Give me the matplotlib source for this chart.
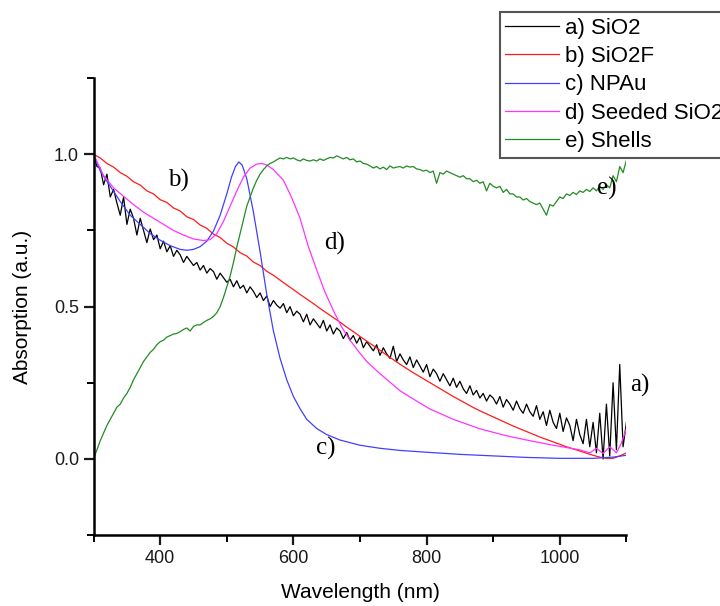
import numpy as np
import matplotlib.pyplot as plt
from matplotlib.ticker import MultipleLocator

plt.rcParams['font.family'] = ['Liberation Sans', 'DejaVu Sans']

# a) SiO2, sampled every 5 nm from 300 to 1100
sio2_wl = np.arange(300, 1101, 5)
sio2 = [
    1.00, 0.96, 0.955, 0.90, 0.935, 0.86, 0.885, 0.84, 0.80, 0.86,
    0.77, 0.82, 0.79, 0.735, 0.79, 0.75, 0.71, 0.755, 0.72, 0.735,
    0.69, 0.715, 0.68, 0.70, 0.665, 0.685, 0.67, 0.645, 0.665, 0.65,
    0.635, 0.645, 0.62, 0.635, 0.61, 0.625, 0.615, 0.59, 0.61, 0.595,
    0.58, 0.59, 0.565, 0.585, 0.56, 0.57, 0.545, 0.565, 0.55, 0.53,
    0.545, 0.52, 0.535, 0.50, 0.52, 0.505, 0.495, 0.51, 0.48, 0.50,
    0.47, 0.485, 0.475, 0.45, 0.475, 0.44, 0.46, 0.445, 0.43, 0.455,
    0.42, 0.44, 0.41, 0.43, 0.42, 0.395, 0.415, 0.39, 0.405, 0.38,
    0.40, 0.365, 0.385, 0.37, 0.355, 0.375, 0.34, 0.365, 0.345, 0.33,
    0.37, 0.32, 0.345, 0.325, 0.31, 0.335, 0.30, 0.325, 0.305, 0.285,
    0.31, 0.27, 0.295, 0.28, 0.255, 0.28, 0.26, 0.24, 0.265, 0.235,
    0.255, 0.23, 0.215, 0.24, 0.21, 0.225, 0.20, 0.215, 0.19, 0.21,
    0.20, 0.18, 0.205, 0.17, 0.195, 0.18, 0.16, 0.19, 0.165, 0.15,
    0.18, 0.155, 0.14, 0.175, 0.13, 0.155, 0.11, 0.16, 0.12, 0.10,
    0.15, 0.09, 0.135, 0.11, 0.06, 0.13, 0.08, 0.05, 0.13, 0.04,
    0.12, 0.02, 0.15, 0.00, 0.18, 0.01, 0.25, 0.03, 0.31, 0.04,
    0.12,
]

# b) SiO2F, every 10 nm
sio2f_wl = np.arange(300, 1101, 10)
sio2f = [
    1.000, 0.988, 0.970, 0.958, 0.940, 0.928, 0.910, 0.899, 0.880, 0.870,
    0.851, 0.842, 0.824, 0.814, 0.795, 0.786, 0.768, 0.757, 0.738, 0.727,
    0.708, 0.696, 0.677, 0.666, 0.646, 0.635, 0.616, 0.603, 0.587, 0.571,
    0.556, 0.540, 0.525, 0.510, 0.494, 0.479, 0.464, 0.449, 0.433, 0.418,
    0.402, 0.387, 0.372, 0.357, 0.341, 0.326, 0.311, 0.297, 0.283, 0.270,
    0.257, 0.244, 0.231, 0.218, 0.205, 0.193, 0.181, 0.169, 0.158, 0.148,
    0.138, 0.128, 0.118, 0.108, 0.099, 0.090, 0.081, 0.072, 0.064, 0.056,
    0.048, 0.040, 0.033, 0.026, 0.019, 0.012, 0.006, 0.002, 0.002, 0.010,
    0.020,
]

# c) NPAu
npau_wl = [300, 310, 325, 340, 355, 370, 385, 400, 415, 430, 440, 450, 460, 470,
           480, 490, 500, 507, 513, 518, 523, 530, 540, 550, 560, 570, 580, 590,
           600, 610, 620, 635, 650, 670, 700, 730, 760, 800, 850, 900, 950, 1000,
           1050, 1080, 1100]
npau = [1.0, 0.945, 0.895, 0.845, 0.80, 0.77, 0.74, 0.718, 0.70, 0.688, 0.685,
        0.688, 0.697, 0.715, 0.748, 0.80, 0.87, 0.925, 0.96, 0.975, 0.965, 0.92,
        0.81, 0.68, 0.54, 0.42, 0.33, 0.26, 0.205, 0.165, 0.13, 0.10, 0.08,
        0.062, 0.045, 0.035, 0.028, 0.022, 0.015, 0.010, 0.005, 0.002, 0.002,
        0.006, 0.012]

# d) Seeded SiO2
seeded_wl = [300, 315, 330, 345, 360, 375, 390, 405, 420, 435, 450, 465, 475, 485,
             495, 505, 515, 525, 535, 545, 552, 560, 570, 585, 597, 610, 622, 635,
             647, 660, 672, 685, 697, 710, 730, 760, 785, 805, 840, 880, 920, 955,
             990, 1030, 1045, 1055, 1065, 1075, 1085, 1092, 1097, 1100]
seeded = [1.0, 0.93, 0.89, 0.862, 0.835, 0.81, 0.79, 0.77, 0.75, 0.735, 0.722,
          0.717, 0.72, 0.74, 0.78, 0.83, 0.88, 0.925, 0.955, 0.968, 0.97, 0.965,
          0.95, 0.915, 0.86, 0.79, 0.70, 0.62, 0.55, 0.487, 0.435, 0.39, 0.355,
          0.32, 0.28, 0.224, 0.19, 0.164, 0.13, 0.099, 0.076, 0.06, 0.045, 0.03,
          0.02, 0.035, 0.018, 0.04, 0.02, 0.05, 0.08, 0.10]

# e) Shells, every 5 nm
shells_wl = np.arange(300, 1101, 5)
shells = [
    0.00, 0.03, 0.06, 0.085, 0.11, 0.13, 0.15, 0.17, 0.18, 0.20,
    0.215, 0.235, 0.26, 0.28, 0.30, 0.32, 0.335, 0.35, 0.36, 0.375,
    0.385, 0.39, 0.40, 0.405, 0.41, 0.412, 0.418, 0.425, 0.43, 0.42,
    0.435, 0.44, 0.44, 0.448, 0.455, 0.46, 0.468, 0.48, 0.50, 0.53,
    0.565, 0.60, 0.645, 0.695, 0.74, 0.785, 0.83, 0.86, 0.89, 0.915,
    0.935, 0.95, 0.962, 0.97, 0.975, 0.982, 0.988, 0.985, 0.99, 0.985,
    0.988, 0.982, 0.978, 0.985, 0.98, 0.978, 0.982, 0.978, 0.985, 0.98,
    0.985, 0.99, 0.988, 0.995, 0.99, 0.985, 0.99, 0.982, 0.985, 0.975,
    0.978, 0.97, 0.968, 0.962, 0.955, 0.96, 0.952, 0.958, 0.95, 0.962,
    0.955, 0.958, 0.96, 0.955, 0.962, 0.958, 0.96, 0.952, 0.95, 0.945,
    0.948, 0.94, 0.945, 0.905, 0.94, 0.935, 0.945, 0.94, 0.935, 0.93,
    0.925, 0.93, 0.92, 0.92, 0.91, 0.915, 0.905, 0.91, 0.88, 0.905,
    0.895, 0.89, 0.895, 0.875, 0.885, 0.87, 0.87, 0.86, 0.86, 0.85,
    0.855, 0.845, 0.84, 0.835, 0.84, 0.82, 0.80, 0.835, 0.83, 0.845,
    0.86, 0.855, 0.87, 0.865, 0.875, 0.868, 0.88, 0.875, 0.885, 0.878,
    0.89, 0.88, 0.895, 0.885, 0.90, 0.89, 0.93, 0.91, 0.96, 0.94,
    0.98,
]

labels = ["a) SiO2", "b) SiO2F", "c) NPAu", "d) Seeded SiO2", "e) Shells"]
colors = ["black", "#ff1a1a", "#4040ff", "#ff33ff", "#228b22"]

# (text, wavelength, absorption) for the letters next to the curves
tags = [("b)", 427, 0.914), ("d)", 662, 0.707), ("c)", 649, 0.033),
        ("a)", 1120, 0.24), ("e)", 1070, 0.888)]

fig = plt.figure(figsize=(7.2, 6.06), dpi=100)
ax = fig.add_axes([0.13, 0.117, 0.74, 0.754])

series = [(sio2_wl, sio2), (sio2f_wl, sio2f), (npau_wl, npau),
          (seeded_wl, seeded), (shells_wl, shells)]
for (wl, vals), lab, col in zip(series, labels, colors):
    ax.plot(wl, vals, color=col, lw=0.9, label=lab)

for txt, x, y in tags:
    ax.text(x, y, txt, family="Liberation Serif", fontsize=18,
            ha="center", va="center", clip_on=False)

ax.set_xlim(300, 1100)
ax.set_ylim(-0.25, 1.25)
ax.xaxis.set_minor_locator(MultipleLocator(100))
ax.yaxis.set_minor_locator(MultipleLocator(0.25))
ax.set_xticks([400, 600, 800, 1000])
ax.set_yticks([0.0, 0.5, 1.0])
ax.set_yticklabels(["0.0", "0.5", "1.0"])

for s in ["top", "right"]:
    ax.spines[s].set_visible(False)
for s in ["left", "bottom"]:
    ax.spines[s].set_linewidth(1.8)
ax.tick_params(which="major", direction="out", length=7, width=1.6,
               labelsize=13, colors="#1a1a1a")
ax.tick_params(which="minor", direction="out", length=5, width=1.4)

ax.set_xlabel("Wavelength (nm)", fontsize=15, labelpad=12)
ax.set_ylabel("Absorption (a.u.)", fontsize=15, labelpad=16)

# legend hangs past the right edge, as in the original figure
leg = fig.legend(loc="upper left", bbox_to_anchor=(0.694, 0.98),
                 borderaxespad=0, fontsize=16, fancybox=False,
                 edgecolor="#555555", framealpha=1, handlelength=2.4,
                 handletextpad=0.3, labelspacing=0.33, borderpad=0.25)
leg.get_frame().set_linewidth(1.5)

fig.savefig("out.png", dpi=100)
